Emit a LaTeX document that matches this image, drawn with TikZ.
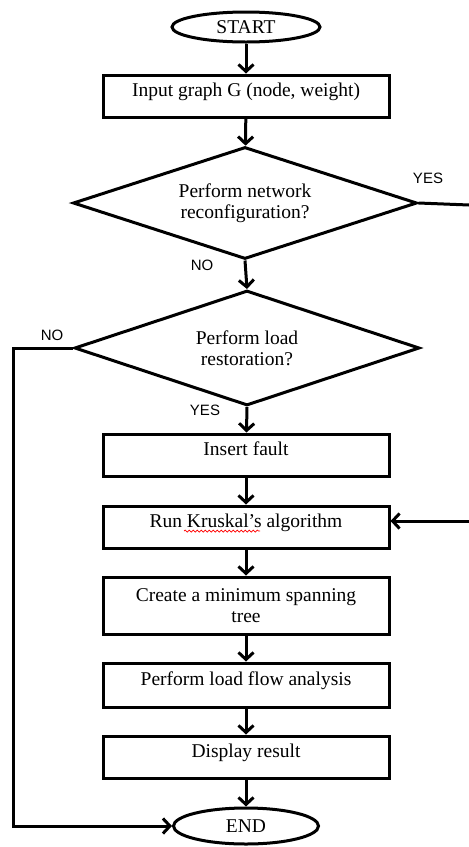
\documentclass[tikz,border=0pt]{standalone}
\usepackage{fontspec}
\setmainfont{Liberation Serif}
\newfontfamily\labelfont{Liberation Sans}
\usetikzlibrary{shapes.geometric,arrows.meta,decorations.pathmorphing}
\begin{document}
\begin{tikzpicture}[x=1pt,y=-1pt,
  line width=3pt,
  every node/.style={font=\fontsize{19.5}{21}\selectfont, inner sep=0pt},
  arr/.style={-{Straight Barb[length=7pt,width=15pt,line width=3pt]}},
  terminal/.style={draw, ellipse, minimum width=148pt, minimum height=30pt},
  procbox/.style={draw, rectangle, minimum width=286pt, minimum height=42pt, text height=0pt, text depth=0pt},
  procbox2/.style={draw, rectangle, minimum width=286pt, minimum height=57pt, align=center},
  decision/.style={draw, diamond, aspect=3.1, minimum width=344pt, minimum height=112pt, align=center},
  lbl/.style={font=\labelfont\fontsize{15}{17}\selectfont}
]
\useasboundingbox (0,0) rectangle (469,847);

\node[terminal] (start) at (246,27) {START};
\node[procbox] (input) at (246,96) {Input graph G (node, weight)};
\node[decision] (d1) at (245,203) {Perform network\\reconfiguration?};
\node[decision, minimum width=345pt, minimum height=115pt] (d2) at (247,348) {Perform load\\restoration?};
\node[procbox] (fault) at (246,455) {Insert fault};
\node[procbox] (kruskal) at (246,527) {Run Kruskal's algorithm};
\node[procbox2] (mst) at (246,605.5) {Create a minimum spanning\\tree};
\node[procbox, minimum height=44pt] (flow) at (246,685) {Perform load flow analysis};
\node[procbox] (disp) at (246,757) {Display result};
\node[terminal, minimum width=145pt, minimum height=36pt] (end) at (246,826) {END};

\coordinate (yesend) at (469,205);
\coordinate (loopin) at (469,521);
\coordinate (nocorner) at (13,348);

\draw[arr] (start) -- (input);
\draw[arr] (input) -- (d1);
\draw[arr] (d1.south) -- (d2.north);
\draw[arr] (d2.south) -- (fault);
\draw[arr] (fault) -- (kruskal);
\draw[arr] (kruskal) -- (mst);
\draw[arr] (mst) -- (flow);
\draw[arr] (flow) -- (disp);
\draw[arr] (disp) -- (end);
\draw (d1.east) -- (yesend);
\draw[arr] (loopin) -- (kruskal.east |- loopin);
\draw[arr] (d2.west) -- (nocorner) |- (end.west);

\node[lbl] (yes1) at (428,178) {YES};
\node[lbl] (no1) at (202,265) {NO};
\node[lbl] (no2) at (52,335) {NO};
\node[lbl] (yes2) at (205,410) {YES};

\draw[red, line width=0.7pt, decorate, decoration={snake, amplitude=1pt, segment length=4pt}] (184,531) -- (260,531);
\end{tikzpicture}
\end{document}
